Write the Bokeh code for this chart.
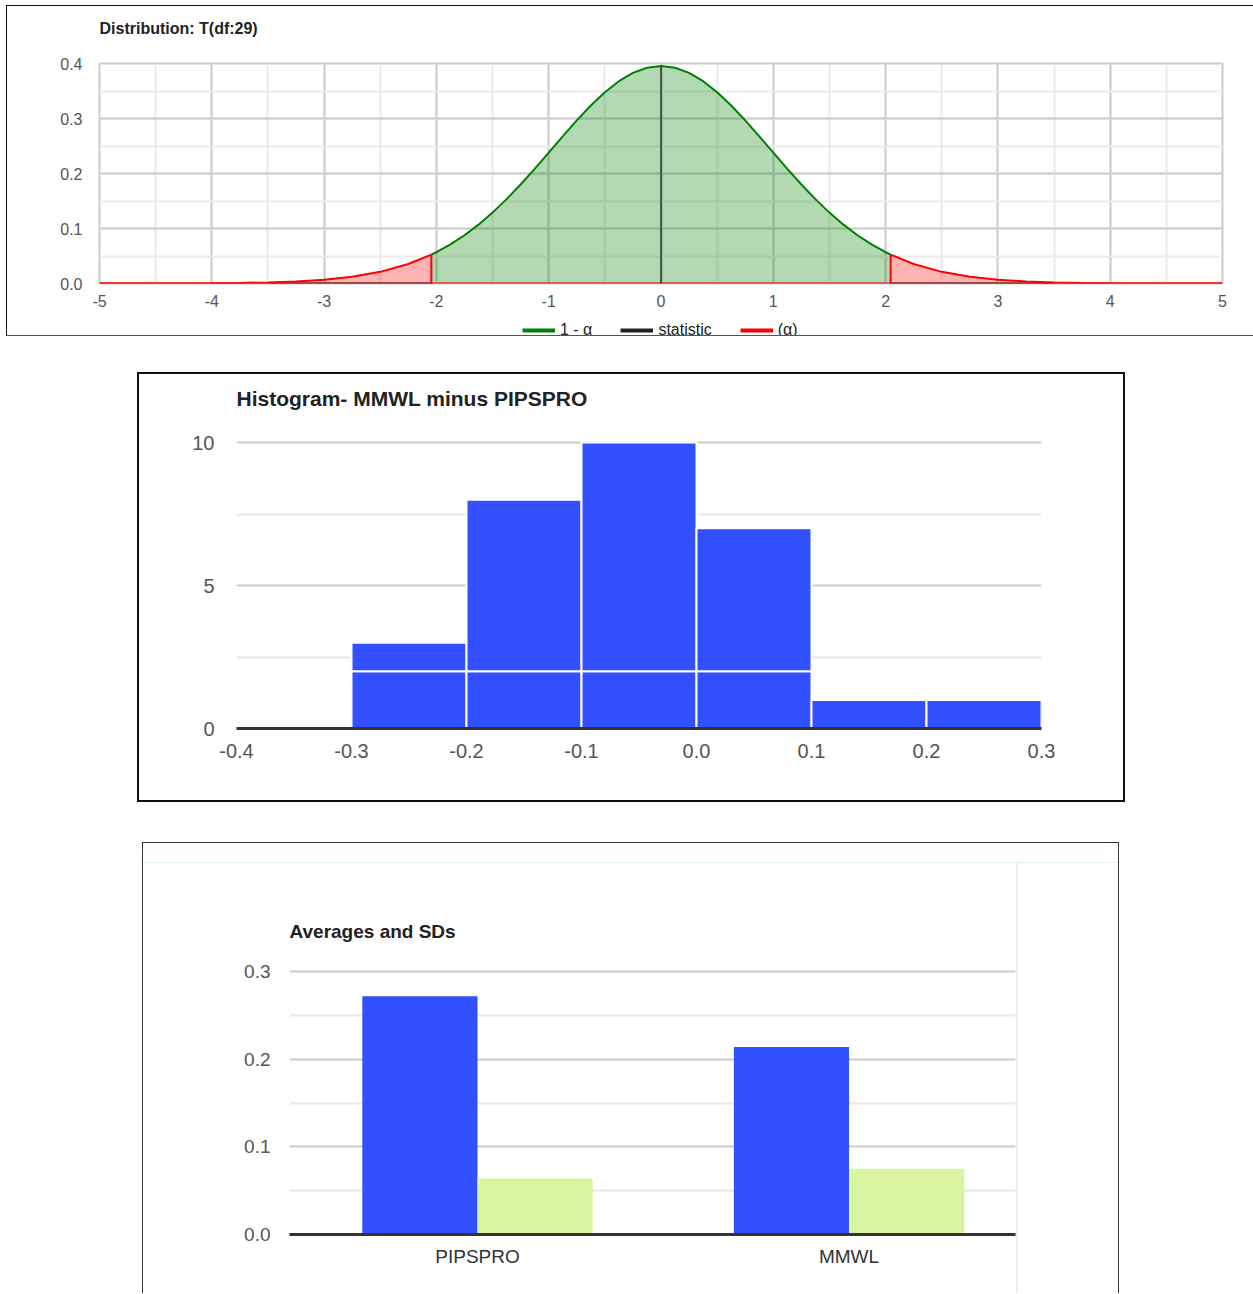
import numpy as np
from bokeh.plotting import figure
from bokeh.layouts import column
from bokeh.models import (Range1d, SingleIntervalTicker, FixedTicker, NumeralTickFormatter,
                          Legend, LegendItem, Label, ScrollBox)
from bokeh.embed import file_html
from bokeh.resources import INLINE

FONT = "Liberation Sans"

# ---------------- Student t distribution (df = 29) ----------------
dist_title = "Distribution: T(df:29)"
t_values = [-5, -4.5, -4, -3.75, -3.5, -3.25, -3, -2.75, -2.5, -2.25, -2.045, -2,
            -1.875, -1.75, -1.625, -1.5, -1.375, -1.25, -1.125, -1, -0.875, -0.75,
            -0.625, -0.5, -0.375, -0.25, -0.125, 0, 0.125, 0.25, 0.375, 0.5, 0.625,
            0.75, 0.875, 1, 1.125, 1.25, 1.375, 1.5, 1.625, 1.75, 1.875, 2, 2.045,
            2.25, 2.5, 2.75, 3, 3.25, 3.5, 3.75, 4, 4.5, 5]
t_density = [0.0000, 0.0001, 0.0005, 0.0011, 0.0020, 0.0038, 0.0069, 0.0122, 0.0212,
             0.0354, 0.0524, 0.0569, 0.0711, 0.0877, 0.1070, 0.1289, 0.1534, 0.1800,
             0.2084, 0.2378, 0.2676, 0.2965, 0.3236, 0.3477, 0.3678, 0.3829, 0.3923,
             0.3955, 0.3923, 0.3829, 0.3678, 0.3477, 0.3236, 0.2965, 0.2676, 0.2378,
             0.2084, 0.1800, 0.1534, 0.1289, 0.1070, 0.0877, 0.0711, 0.0569, 0.0524,
             0.0354, 0.0212, 0.0122, 0.0069, 0.0038, 0.0020, 0.0011, 0.0005, 0.0001,
             0.0000]
t_critical = 2.045
t_statistic = 0.0
legend_labels = ["1 - \u03b1", "statistic", "(\u03b1)"]
legend_colors = ["green", "#222222", "red"]

# ---------------- Histogram of differences ----------------
hist_title = "Histogram- MMWL minus PIPSPRO"
hist_edges = [-0.3, -0.2, -0.1, 0.0, 0.1, 0.2, 0.3]
hist_counts = [3, 8, 10, 7, 1, 1]
hist_lower = [2, 2, 2, 2, 1, 1]
hist_xticks = [-0.4, -0.3, -0.2, -0.1, 0.0, 0.1, 0.2, 0.3]
hist_yticks = [0, 5, 10]
hist_yminor = [2.5, 7.5]

# ---------------- Averages and standard deviations ----------------
bar_title = "Averages and SDs"
groups = ["PIPSPRO", "MMWL"]
averages = [0.272, 0.214]
sds = [0.064, 0.075]
bar_yticks = [0.0, 0.1, 0.2, 0.3]
bar_yminor = [0.05, 0.15, 0.25]

BLUE = "#3250ff"
LIGHT_GREEN = "#d9f5a0"
MINT = "#e2f4ec"
# thin mint rule along the right edge of the bar chart area
MINT_RULE = (f"linear-gradient(to right, transparent 873px, {MINT} 873px, "
             f"{MINT} 875px, transparent 875px)")


def style_axis(ax, size, color, standoff, line=False):
    ax.axis_line_color = "#333333" if line else None
    ax.axis_line_width = 3
    ax.major_tick_line_color = None
    ax.minor_tick_line_color = None
    ax.major_tick_out = 0
    ax.major_tick_in = 0
    ax.minor_tick_out = 0
    ax.minor_tick_in = 0
    ax.major_label_text_font = FONT
    ax.major_label_text_font_size = f"{size}px"
    ax.major_label_text_color = color
    ax.major_label_standoff = standoff


def style_grid(g, major="#cccccc", minor="#e8e8e8"):
    g.grid_line_color = major
    g.grid_line_width = 2
    g.minor_grid_line_color = minor
    g.minor_grid_line_width = 2


def strip(width, height, border_left, border_right, border_fill="white", **kw):
    # axis-free strip used for a heading or a legend row
    return figure(width=width, height=height, x_range=Range1d(0, 1), y_range=Range1d(0, height),
                  x_axis_type=None, y_axis_type=None, output_backend="svg",
                  toolbar_location=None, min_border=0, min_border_left=border_left,
                  min_border_right=border_right, outline_line_color=None,
                  background_fill_color="white", border_fill_color=border_fill, **kw)


def heading(text, size, width, height, center_from_top, border_left, border_right, **kw):
    f = strip(width, height, border_left, border_right, **kw)
    f.add_layout(Label(x=0, y=height - center_from_top, text=text, text_align="left",
                       text_baseline="middle", text_font=FONT, text_font_size=f"{size}px",
                       text_font_style="bold", text_color="#222222"))
    return f


def boxed(child, w, h, margin, styles):
    return ScrollBox(child=child, width=w, height=h, margin=margin, styles=styles,
                     horizontal_scrollbar="hidden", vertical_scrollbar="hidden")


# ======== panel 1: t distribution ========
h1 = heading(dist_title, 16, 1246, 48, 22, 92, 31)
p1 = figure(width=1246, height=259, x_range=Range1d(-5, 5), y_range=Range1d(0, 0.4),
            output_backend="svg", toolbar_location=None,
            min_border_left=92, min_border_right=31, min_border_top=9, min_border_bottom=30,
            background_fill_color="white", border_fill_color="white",
            outline_line_color="#cccccc", outline_line_width=2)
xt1 = SingleIntervalTicker(interval=1, num_minor_ticks=2)
yt1 = SingleIntervalTicker(interval=0.1, num_minor_ticks=2)
p1.xaxis.ticker = xt1
p1.xgrid.ticker = xt1
p1.yaxis.ticker = yt1
p1.ygrid.ticker = yt1
p1.xaxis.formatter = NumeralTickFormatter(format="0")
p1.yaxis.formatter = NumeralTickFormatter(format="0.0")
style_axis(p1.xaxis[0], 16, "#555555", 11)
style_axis(p1.yaxis[0], 16, "#555555", 17)
style_grid(p1.xgrid[0], minor="#ebebeb")
style_grid(p1.ygrid[0], minor="#ebebeb")

tx = np.array(t_values, dtype=float)
ty = np.array(t_density, dtype=float)
mid = np.abs(tx) <= t_critical + 1e-9
left = tx <= -t_critical + 1e-9
right = tx >= t_critical - 1e-9
crit_y = float(ty[np.isclose(tx, t_critical)][0])
peak_y = float(ty[np.isclose(tx, t_statistic)][0])

p1.varea(x=tx[mid], y1=0, y2=ty[mid], fill_color="green", fill_alpha=0.3)
p1.varea(x=tx[left], y1=0, y2=ty[left], fill_color="red", fill_alpha=0.3)
p1.varea(x=tx[right], y1=0, y2=ty[right], fill_color="red", fill_alpha=0.3)
p1.line(tx, np.zeros(len(tx)), line_color="red", line_width=2)
dark = (np.abs(tx) >= t_critical - 1e-9) & (np.abs(tx) <= 3.5)
for m in (dark & (tx < 0), dark & (tx > 0)):
    p1.line(tx[m], np.zeros(m.sum()), line_color="#444444", line_width=2)
p1.line(tx[left], ty[left], line_color="red", line_width=2)
p1.line(tx[right], ty[right], line_color="red", line_width=2)
p1.line(tx[mid], ty[mid], line_color="green", line_width=2)
p1.segment(x0=[-t_critical, t_critical], y0=[0, 0], x1=[-t_critical, t_critical],
           y1=[crit_y, crit_y], line_color="red", line_width=2)
p1.segment(x0=[t_statistic], y0=[0], x1=[t_statistic], y1=[peak_y],
           line_color="#333333", line_width=1.5)

# legend row, cut by the bottom edge of the panel
lg = strip(1246, 22, 92, 31)
swatches = [lg.line([0], [0], line_color=c, line_width=4) for c in legend_colors]
legend = Legend(items=[LegendItem(label=t, renderers=[r]) for t, r in zip(legend_labels, swatches)],
                orientation="horizontal", location=(423, -4), padding=0, margin=0,
                spacing=28, label_standoff=5, glyph_width=33, glyph_height=16,
                label_height=16, border_line_color=None, background_fill_alpha=0,
                label_text_font=FONT, label_text_font_size="16px", label_text_color="#222222")
lg.add_layout(legend)
box1 = boxed(column(h1, p1, lg, spacing=0), 1247, 331, (5, 0, 0, 6),
             {"border-top": "1px solid #111", "border-left": "1px solid #111",
              "border-bottom": "1px solid #555", "box-sizing": "border-box"})

# ======== panel 2: histogram ========
h2 = heading(hist_title, 21, 984, 56, 24, 97, 82)
p2 = figure(width=984, height=370, x_range=Range1d(-0.4, 0.3), y_range=Range1d(0, 10.07),
            output_backend="svg", toolbar_location=None,
            min_border_left=97, min_border_right=82, min_border_top=10, min_border_bottom=72,
            background_fill_color="white", border_fill_color="white", outline_line_color=None)
p2.xaxis.ticker = FixedTicker(ticks=hist_xticks)
p2.xgrid.visible = False
yt2 = FixedTicker(ticks=hist_yticks, minor_ticks=hist_yminor)
p2.yaxis.ticker = yt2
p2.ygrid.ticker = yt2
p2.xaxis.formatter = NumeralTickFormatter(format="0.0")
style_axis(p2.xaxis[0], 20, "#555555", 15, line=True)
style_axis(p2.yaxis[0], 20, "#555555", 22)
style_grid(p2.ygrid[0])
p2.quad(left=hist_edges[:-1], right=hist_edges[1:], bottom=0, top=hist_lower,
        fill_color=BLUE, line_color="white", line_width=2)
p2.quad(left=hist_edges[:-1], right=hist_edges[1:], bottom=hist_lower, top=hist_counts,
        fill_color=BLUE, line_color="white", line_width=2)
box2 = boxed(column(h2, p2, spacing=0), 988, 430, (36, 0, 0, 137),
             {"border": "2px solid #111", "box-sizing": "border-box"})

# ======== panel 3: averages and SDs ========
positions = np.arange(1, len(groups) + 1)
h3 = heading(bar_title, 19, 975, 91, 68, 146, 103, border_fill=None, margin=(19, 0, 0, 0),
             styles={"border-top": f"1px solid {MINT}", "box-sizing": "border-box",
                     "background": MINT_RULE})
p3 = figure(width=975, height=340, x_range=Range1d(0.494, 2.448), y_range=Range1d(0, 0.3025),
            output_backend="svg", toolbar_location=None,
            min_border_left=146, min_border_right=103, min_border_top=16, min_border_bottom=59,
            background_fill_color="white", border_fill_color=None, outline_line_color=None,
            styles={"background": MINT_RULE})
p3.xaxis.ticker = FixedTicker(ticks=list(positions))
p3.xaxis.major_label_overrides = {int(k): g for k, g in zip(positions, groups)}
p3.xgrid.visible = False
yt3 = FixedTicker(ticks=bar_yticks, minor_ticks=bar_yminor)
p3.yaxis.ticker = yt3
p3.ygrid.ticker = yt3
p3.yaxis.formatter = NumeralTickFormatter(format="0.0")
style_axis(p3.xaxis[0], 19, "#333333", 11, line=True)
style_axis(p3.yaxis[0], 19, "#555555", 19)
style_grid(p3.ygrid[0])
bw = 0.31
p3.vbar(x=positions - bw / 2, width=bw, top=averages, bottom=0, fill_color=BLUE, line_color=None)
p3.vbar(x=positions + bw / 2, width=bw, top=sds, bottom=0, fill_color=LIGHT_GREEN, line_color=None)
box3 = boxed(column(h3, p3, spacing=0), 977, 451, (40, 0, 0, 142),
             {"border-top": "1px solid #333", "border-left": "1px solid #333",
              "border-right": "1px solid #333", "box-sizing": "border-box"})

page = column(box1, box2, box3, spacing=0)
open("out.html", "w").write(file_html(page, INLINE))
